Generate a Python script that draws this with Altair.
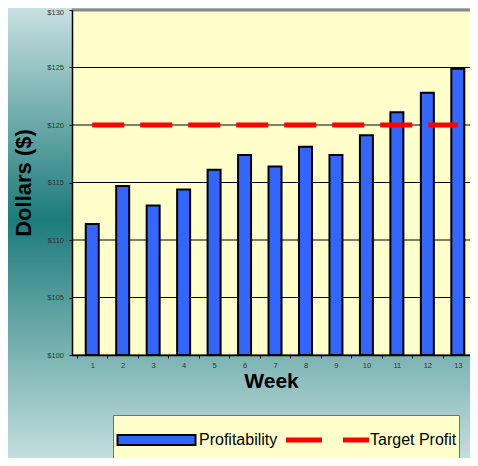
import altair as alt
import pandas as pd

# ---- data ----
weeks = list(range(1, 14))
profit = [111.4, 114.7, 113.0, 114.4, 116.1, 117.4, 116.4, 118.1, 117.4, 119.1, 121.1, 122.8, 124.9]
target = [120] * 13
series_names = ["Profitability", "Target Profit"]
series_colors = ["#3366ff", "#ff0000"]
y_ticks = [100, 105, 110, 115, 120, 125, 130]
x_ticks = [0.5, 1, 1.5, 2, 2.5, 3, 3.5, 4, 4.5, 5, 5.5, 6, 6.5, 7, 7.5, 8,
           8.5, 9, 9.5, 10, 10.5, 11, 11.5, 12, 12.5, 13]

df = pd.DataFrame({"week": weeks, "profit": profit, "target": target,
                   "series": ["Profitability"] * 13})
grid_df = pd.DataFrame({"v": y_ticks})
one_df = pd.DataFrame({"a": [0]})

FONT = "Liberation Sans"
W, H = 398, 345
PAD = {"left": 64, "top": 2, "right": 0, "bottom": 103}

xscale = alt.Scale(domain=[0.5, 13.236], nice=False, zero=False)
yscale = alt.Scale(domain=[100, 130], nice=False, zero=False)

gradient = alt.LinearGradient(
    gradient="linear", x1=0, x2=0, y1=0, y2=1,
    stops=[alt.GradientStop(color="#c8e0e0", offset=0),
           alt.GradientStop(color="#1d7b7b", offset=0.47),
           alt.GradientStop(color="#c4dede", offset=1)])

bg = alt.Chart(one_df).mark_rect(color=gradient).encode(
    x=alt.value(-PAD["left"]), x2=alt.value(W),
    y=alt.value(-PAD["top"]), y2=alt.value(H + PAD["bottom"]))

plotbg = alt.Chart(one_df).mark_rect(color="#ffffcc").encode(
    x=alt.value(0), x2=alt.value("width"), y=alt.value(0), y2=alt.value("height"))

xaxis = alt.Axis(
    values=x_ticks,
    labelExpr="datum.value % 1 == 0 ? format(datum.value, 'd') : ''",
    tickOpacity={"condition": {"test": "datum.value % 1 == 0", "value": 0}, "value": 1},
    title="Week", titleFont=FONT, titleFontSize=21, titleFontWeight="bold",
    titleColor="#000000", titlePadding=2,
    labelFont=FONT, labelFontSize=7.5, labelColor="#333333", labelPadding=3,
    labelFlush=False, labelOverlap=False,
    tickSize=3, tickColor="#000000", domainColor="#000000", domainWidth=1.5,
    grid=False, zindex=1)

yaxis = alt.Axis(
    values=y_ticks, labelExpr="'$' + datum.value",
    labelOffset={"condition": {"test": "datum.value == 130", "value": 2.5}, "value": 0},
    title="Dollars ($)", titleFont=FONT, titleFontSize=22, titleFontWeight="bold",
    titleColor="#000000", titleX=-49, titleY=H / 2, titleAngle=270,
    titleAlign="center", titleBaseline="middle",
    labelFont=FONT, labelFontSize=7.5, labelColor="#333333", labelPadding=5.5,
    labelFlush=False, labelOverlap=False,
    tickSize=3, tickColor="#000000", domainColor="#000000", domainWidth=1.5,
    grid=False, zindex=1)

grid = alt.Chart(grid_df).mark_rule().encode(
    y=alt.Y("v:Q", scale=yscale, axis=yaxis),
    color=alt.condition("datum.v == 130", alt.value("#888888"), alt.value("#000000")),
    strokeWidth=alt.condition("datum.v == 130", alt.value(3), alt.value(1)),
)

legend = alt.Legend(
    orient="none", legendX=41, legendY=405, direction="horizontal",
    fillColor="#ffffcc", strokeColor="#707070", padding=2, cornerRadius=0,
    clipHeight=46, symbolSize=6889, symbolStrokeWidth=2, symbolOpacity=1,
    symbolOffset=-1,
    symbolType={"expr": "datum.value === 'Profitability' ? 'M-0.94,-0.12H0.94V0.12H-0.94Z' : 'M-1,-0.06H-0.133V0.06H-1ZM0.373,-0.06H1V0.06H0.373Z'"},
    symbolStrokeColor={"expr": "datum.value === 'Profitability' ? '#000000' : 'transparent'"},
    labelFont=FONT, labelFontSize=16, labelColor="#000000", labelOffset=0,
    columnPadding=8, title=None)

bars = alt.Chart(df).mark_bar(size=13, stroke="#000000", strokeWidth=2).encode(
    x=alt.X("week:Q", scale=xscale, axis=xaxis),
    y=alt.Y("profit:Q", scale=yscale, axis=yaxis),
    y2=alt.datum(100),
    color=alt.Color("series:N", scale=alt.Scale(domain=series_names, range=series_colors),
                    legend=legend),
)

line = alt.Chart(df).mark_line(color="#ff0000", strokeWidth=5, strokeDash=[32, 16],
                               strokeCap="butt").encode(
    x=alt.X("week:Q", scale=xscale, axis=xaxis),
    y=alt.Y("target:Q", scale=yscale, axis=yaxis),
)

chart = alt.layer(bg, plotbg, grid, bars, line).properties(
    width=W, height=H, padding=PAD,
    autosize=alt.AutoSizeParams(type="none"),
).configure(font=FONT, background="#ffffff").configure_view(stroke=None)

chart.save("out.html", embed_options={"renderer": "svg", "actions": False})
